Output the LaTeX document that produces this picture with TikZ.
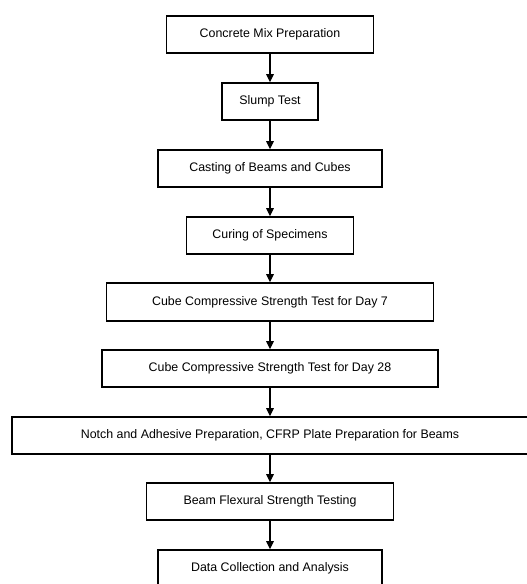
\documentclass[tikz,border=0pt]{standalone}
\usepackage{fontspec}
\setmainfont{Liberation Sans}
\usepackage{tikz}
\usetikzlibrary{arrows.meta, positioning}

\begin{document}
\begin{tikzpicture}[x=1pt, y=1pt,
    stage/.style={draw, line width=1.6pt, minimum height=37pt, inner sep=0pt,
        font=\fontsize{12.4}{14}\selectfont},
    flow/.style={-{Triangle[length=8pt, width=7.5pt]}, line width=1.1pt}]
    \useasboundingbox (0,0) rectangle (527,-584);
    % Stages
    \node[stage, minimum width=207pt] (mix) at (270,-34.5) {Concrete Mix Preparation};
    \node[stage, minimum width=96pt] (slump) at (270,-101.5) {Slump Test};
    \node[stage, minimum width=224pt] (cast) at (270,-168.5) {Casting of Beams and Cubes};
    \node[stage, minimum width=167pt] (cure) at (270,-235.5) {Curing of Specimens};
    \node[stage, minimum width=327pt, minimum height=38pt] (day7) at (270,-302) {Cube Compressive Strength Test for Day 7};
    \node[stage, minimum width=336pt] (day28) at (270,-368.5) {Cube Compressive Strength Test for Day 28};
    \node[stage, minimum width=516pt] (notch) at (270,-435.5) {Notch and Adhesive Preparation, CFRP Plate Preparation for Beams};
    \node[stage, minimum width=247pt] (flex) at (270,-501.5) {Beam Flexural Strength Testing};
    \node[stage, minimum width=224pt] (data) at (270,-568.5) {Data Collection and Analysis};
    % Arrows
    \foreach \a/\b in {mix/slump, slump/cast, cast/cure, cure/day7, day7/day28, day28/notch, notch/flex, flex/data}
        \draw[flow] (\a) -- (\b);
\end{tikzpicture}
\end{document}
